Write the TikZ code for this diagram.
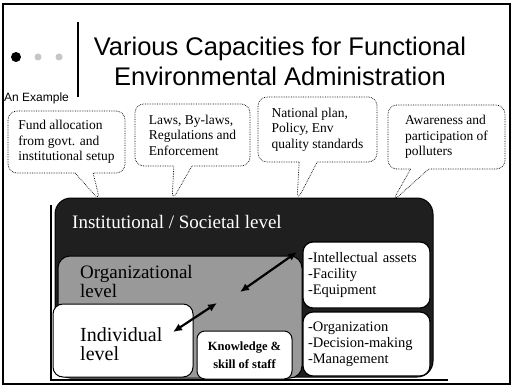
\documentclass[tikz,border=0pt]{standalone}
\usepackage{fontspec}
\setmainfont{Liberation Serif}
\newfontfamily\headfont{Liberation Sans}
\usetikzlibrary{calc, arrows.meta, shapes.callouts}

\tikzset{
  note/.style={rectangle callout, draw, densely dotted, line width=0.7pt,
    rounded corners=9pt, align=left, callout pointer width=18pt,
    font=\fontsize{13.5}{15.5}\selectfont},
  levelbox/.style={draw, line width=1pt, rounded corners=12pt, inner sep=0pt},
  listbox/.style={draw, fill=white, line width=1.2pt, rounded corners=10pt,
    align=left, inner xsep=5pt, text width=117pt,
    font=\fontsize{14.5}{16}\selectfont},
  twoway/.style={line width=2.2pt, {Latex[length=9pt,width=8pt]}-{Latex[length=9pt,width=8pt]}}
}

\begin{document}
\begin{tikzpicture}[x=1pt,y=-1pt]
    \useasboundingbox (0,0) rectangle (514,385);
    \draw[line width=1.5pt] (3,4) rectangle (510,384);

    % heading
    \fill (16,57) circle (5pt);
    \foreach \x in {38,59}
        \fill[gray!45] (\x,57) circle (3.5pt);
    \draw[line width=2pt] (78,22) -- (78,97);
    \node[align=center, font=\headfont\fontsize{25.5}{30}\selectfont] (title) at (280,61)
        {Various Capacities for Functional\\Environmental Administration};
    \node[anchor=base west, inner sep=0pt, font=\headfont\fontsize{12}{14}\selectfont] (example) at (4,102) {An Example};

    % tips of the notes on top of the outer level
    \coordinate (tipfund) at (100,201);
    \coordinate (tiplaw) at (172,201);
    \coordinate (tipplan) at (297,201);
    \coordinate (tipaware) at (392,202);

    \node[note, minimum width=117pt, minimum height=62pt, callout absolute pointer=(tipfund)] (fund) at (66.5,142)
        {Fund allocation\\from govt. and\\institutional setup};
    \node[note, minimum width=115pt, minimum height=62pt, callout absolute pointer=(tiplaw)] (law) at (192.5,135)
        {Laws, By-laws,\\Regulations and\\Enforcement};
    \node[note, minimum width=119pt, minimum height=65pt, callout absolute pointer=(tipplan)] (plan) at (317.5,129.5)
        {National plan,\\Policy, Env\\quality standards};
    \node[note, minimum width=117pt, minimum height=64pt, callout absolute pointer=(tipaware)] (aware) at (446.5,137)
        {Awareness and\\participation of\\polluters};

    % nested levels
    \draw[line width=1.2pt] (51,205) -- (51,380) -- (448,380);
    \node[levelbox, fill=black!88, rounded corners=16pt, minimum width=378pt, minimum height=179pt] (inst) at (244,287.5) {};
    \node[anchor=base west, inner sep=0pt, text=white, font=\fontsize{19}{22}\selectfont] (instlabel) at (72,228)
        {Institutional / Societal level};
    \node[levelbox, fill=black!40, minimum width=244pt, minimum height=122pt] (org) at (180,317) {};
    \node[anchor=base west, inner sep=0pt, align=left, font=\fontsize{19}{17}\selectfont] (orglabel) at (80,297)
        {Organizational\\level};
    \node[levelbox, fill=white, rounded corners=10pt, minimum width=140pt, minimum height=73pt] (indiv) at (123,340.5) {};
    \node[anchor=base west, inner sep=0pt, align=left, font=\fontsize{20}{19}\selectfont] (indlabel) at (80,360)
        {Individual\\level};
    \node[levelbox, fill=white, rounded corners=8pt, align=center, minimum width=95pt, minimum height=48pt,
        font=\bfseries\fontsize{12.5}{18}\selectfont] (skill) at (244.5,355) {Knowledge \&\\skill of staff};

    \node[listbox, minimum height=66pt] (assets) at (366.5,275)
        {-Intellectual assets\\-Facility\\-Equipment};
    \node[listbox, minimum height=64pt] (manage) at (366.5,344)
        {-Organization\\-Decision-making\\-Management};

    % links between the levels
    \coordinate (orgmid) at (240,292);
    \coordinate (assetend) at (297,252);
    \coordinate (indend) at (173,332);
    \coordinate (orgend) at (217,303);
    \draw[twoway] (orgmid) -- (assetend);
    \draw[twoway] (indend) -- (orgend);
\end{tikzpicture}
\end{document}
